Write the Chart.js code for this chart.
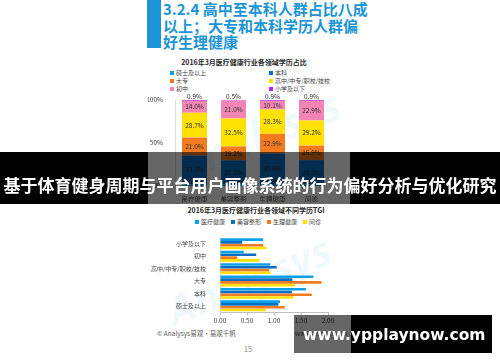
<!DOCTYPE html>
<html lang="zh-CN">
<head>
<meta charset="utf-8">
<title>2016年3月医疗健康行业学历分布</title>
<script src="https://cdn.jsdelivr.net/npm/chart.js@4.4.1/dist/chart.umd.min.js"></script>
<style>
    html, body { margin: 0; padding: 0; }
    body {
        width: 500px; height: 362px; overflow: hidden; position: relative; background: #fff;
        font-family: "Noto Sans CJK SC", "Noto Sans", sans-serif; color: #404040;
    }
    .abs { position: absolute; }
    #titleBar { left: 147px; top: 0; width: 14px; height: 48px; background: #1b95d6; }
    #slideTitle {
        left: 163px; top: 1px; color: #1b95d6; font-size: 15px; font-weight: bold;
        line-height: 16.5px; white-space: nowrap;
    }
    .chartTitle { font-size: 7px; font-weight: bold; color: #262626; white-space: nowrap; transform: translateX(-50%); }
    .legend { font-size: 6px; line-height: 6px; color: #404040; white-space: nowrap; }
    .legend span.item { display: inline-flex; align-items: center; height: 6px; }
    .legend i { display: inline-block; width: 4px; height: 4px; margin-right: 2px; }
    .wm { color: rgba(0, 150, 220, 0.06); font: italic bold 42px "Open Sans", sans-serif; white-space: nowrap; transform-origin: 0 0; }
    canvas { position: absolute; }
    #footer { left: 157px; top: 328px; font-size: 6.5px; color: #595959; white-space: nowrap; }
    #site { left: 295px; top: 328px; font-size: 6.5px; color: #595959; }
    #pageNo { left: 244px; top: 344px; font-size: 7px; color: #808080; }
    #banner {
        left: 0; top: 152px; width: 500px; height: 52px; z-index: 5;
        background: linear-gradient(to right, #000 0, #000 148px, rgba(0,0,0,0.6) 148px, rgba(0,0,0,0.6) 350px, #000 350px);
    }
    #bannerText {
        left: 0; top: 174px; width: 500px; height: 21px; line-height: 21px; z-index: 6;
        text-align: center; color: #fff; font-size: 17px; font-weight: bold; white-space: nowrap;
    }
    #siteBox {
        left: 294px; top: 315px; width: 198px; height: 38px; z-index: 5;
        background: linear-gradient(to right, rgba(0,0,0,0.6) 0, rgba(0,0,0,0.6) 57px, #000 57px);
    }
    #siteText {
        left: 303px; top: 326px; line-height: 20px; z-index: 6; color: #fff;
        font: bold 15.5px "DejaVu Sans", sans-serif; white-space: nowrap;
    }
</style>
</head>
<body>

<div id="titleBar" class="abs"></div>
<div id="slideTitle" class="abs">3.2.4 高中至本科人群占比八成<br>以上；大专和本科学历人群偏<br>好生理健康</div>

<div class="abs wm" style="left:168px; top:140px; transform: rotate(-22deg);">Analysys</div>
<div class="abs wm" style="left:158px; top:285px; transform: rotate(-22deg);">Analysys</div>

<div class="abs chartTitle" style="left:244px; top:57px;">2016年3月医疗健康行业各领域学历占比</div>
<div id="legend1" class="abs legend" style="left:170px; top:70px;"></div>
<canvas id="shareChart" width="202" height="112" style="left:148px; top:92px;"></canvas>

<div class="abs chartTitle" style="left:256px; top:205px;">2016年3月医疗健康行业各领域不同学历TGI</div>
<div id="legend2" class="abs legend" style="left:258px; top:219px; transform: translateX(-50%);"></div>
<canvas id="tgiChart" width="202" height="100" style="left:148px; top:228px;"></canvas>

<div id="footer" class="abs">© Analysys易观·易观千帆</div>
<div id="site" class="abs">www.analysys.cn</div>
<div id="pageNo" class="abs">15</div>

<div id="banner" class="abs"></div>
<div id="bannerText" class="abs">基于体育健身周期与平台用户画像系统的行为偏好分析与优化研究</div>
<div id="siteBox" class="abs"></div>
<div id="siteText" class="abs">www.ypplaynow.com</div>

<script>
// ============================================
// DATA
// ============================================

// chart 1: education share (%) per field, stacked bottom -> top
const fields = ['医疗健康', '美容整形', '生理健康', '问诊'];
const eduLevels = ['硕士及以上', '本科', '大专', '高中/中专/职校/技校', '初中', '小学及以下'];
const eduColors = ['#0ba0e8', '#0a6fc2', '#f47a20', '#ffe100', '#f285b4', '#b128e0'];
const shareMaster   = [2.1, 2.0, 2.2, 1.6];
const shareBachelor = [33.3, 27.8, 35.6, 28.5];
const shareCollege  = [21.0, 16.2, 22.9, 16.9];
const shareHigh     = [28.7, 32.5, 28.3, 29.2];
const shareJunior   = [14.0, 21.0, 10.1, 22.9];
const sharePrimary  = [0.9, 0.5, 0.9, 0.9];
const shareTicks = [0, 50, 100];

// chart 2: TGI per education level, one series per field
const tgiLevels = ['小学及以下', '初中', '高中/中专/职校/技校', '大专', '本科', '硕士及以上'];
const fieldColors = ['#0ba0e8', '#0a6fc2', '#f47a20', '#ffe100'];
const tgiMedical = [0.80, 0.44, 0.93, 1.73, 1.59, 1.11];
const tgiBeauty  = [0.41, 0.67, 1.05, 1.34, 1.33, 1.08];
const tgiPhysio  = [0.80, 0.32, 0.91, 1.88, 1.70, 1.20];
const tgiConsult = [0.86, 0.73, 0.94, 1.39, 1.36, 0.85];
const tgiTicks = [0, 0.5, 1, 1.5, 2];

const FONT = '"Noto Sans CJK SC", "Noto Sans", sans-serif';
const TEXT = '#404040';

// ============================================
// PLUGINS
// ============================================

// percent label in the middle of each stacked segment
const segmentLabels = {
    id: 'segmentLabels',
    afterDatasetsDraw(chart) {
        const ctx = chart.ctx;
        ctx.save();
        ctx.font = '6.5px ' + FONT;
        ctx.fillStyle = '#333';
        ctx.textAlign = 'center';
        ctx.textBaseline = 'middle';
        chart.data.datasets.forEach((ds, i) => {
            chart.getDatasetMeta(i).data.forEach((bar, j) => {
                const h = bar.base - bar.y;
                const y = h < 4 ? bar.y - 3 : bar.y + h / 2;
                ctx.fillText(ds.data[j].toFixed(1) + '%', bar.x, y);
            });
        });
        ctx.restore();
    }
};

function buildLegend(el, labels, colors, columns) {
    el.innerHTML = '';
    if (columns) {
        el.style.display = 'grid';
        el.style.gridTemplateColumns = `repeat(${columns}, 99px)`;
        el.style.rowGap = '2px';
    }
    labels.forEach((label, i) => {
        const item = document.createElement('span');
        item.className = 'item';
        if (!columns) item.style.marginRight = i < labels.length - 1 ? '6px' : '0';
        item.innerHTML = `<i style="background:${colors[i]}"></i>${label}`;
        el.appendChild(item);
    });
}

// ============================================
// CHART 1 - SHARE
// ============================================

const shareSeries = [shareMaster, shareBachelor, shareCollege, shareHigh, shareJunior, sharePrimary];

new Chart(document.getElementById('shareChart'), {
    type: 'bar',
    data: {
        labels: fields,
        datasets: shareSeries.map((data, i) => ({
            label: eduLevels[i],
            data: data,
            backgroundColor: eduColors[i],
            borderWidth: 0,
            barPercentage: 0.64,
            categoryPercentage: 1
        }))
    },
    options: {
        responsive: false,
        animation: false,
        devicePixelRatio: 1,
        layout: { padding: { top: 8, right: 19, bottom: 2, left: 0 } },
        plugins: { legend: { display: false }, title: { display: false }, tooltip: { enabled: false } },
        scales: {
            x: {
                stacked: true,
                grid: { display: false },
                border: { display: false },
                ticks: { font: { size: 6.5, family: FONT }, color: TEXT, padding: 2 },
                afterFit: s => { s.height = 16; }
            },
            y: {
                stacked: true,
                min: 0,
                max: 100,
                grid: { display: false },
                border: { color: '#d9d9d9' },
                ticks: {
                    font: { size: 6.5, family: FONT }, color: TEXT, padding: 4,
                    callback: v => v + '%'
                },
                afterBuildTicks: s => { s.ticks = shareTicks.map(v => ({ value: v })); },
                afterFit: s => { s.width = 27; }
            }
        }
    },
    plugins: [segmentLabels]
});

buildLegend(document.getElementById('legend1'), eduLevels, eduColors, 2);

// ============================================
// CHART 2 - TGI
// ============================================

const tgiSeries = [tgiMedical, tgiBeauty, tgiPhysio, tgiConsult];

new Chart(document.getElementById('tgiChart'), {
    type: 'bar',
    data: {
        labels: tgiLevels,
        datasets: tgiSeries.map((data, i) => ({
            label: fields[i],
            data: data,
            backgroundColor: fieldColors[i],
            borderWidth: 0,
            barPercentage: 0.92,
            categoryPercentage: 0.9
        }))
    },
    options: {
        indexAxis: 'y',
        responsive: false,
        animation: false,
        devicePixelRatio: 1,
        layout: { padding: { top: 3, right: 22, bottom: 2, left: 0 } },
        plugins: { legend: { display: false }, title: { display: false }, tooltip: { enabled: false } },
        scales: {
            x: {
                min: 0,
                max: 2,
                grid: { display: true, drawOnChartArea: false, drawTicks: true, tickLength: 3, color: '#bfbfbf' },
                border: { color: '#bfbfbf' },
                ticks: {
                    font: { size: 6.5, family: FONT }, color: TEXT, padding: 2,
                    callback: v => v.toFixed(2)
                },
                afterBuildTicks: s => { s.ticks = tgiTicks.map(v => ({ value: v })); },
                afterFit: s => { s.height = 14; }
            },
            y: {
                grid: { display: false },
                border: { color: '#d9d9d9' },
                ticks: { font: { size: 6, family: FONT }, color: TEXT, padding: 6 },
                afterFit: s => { s.width = 72; }
            }
        }
    }
});

buildLegend(document.getElementById('legend2'), fields, fieldColors, 0);
</script>
</body>
</html>
